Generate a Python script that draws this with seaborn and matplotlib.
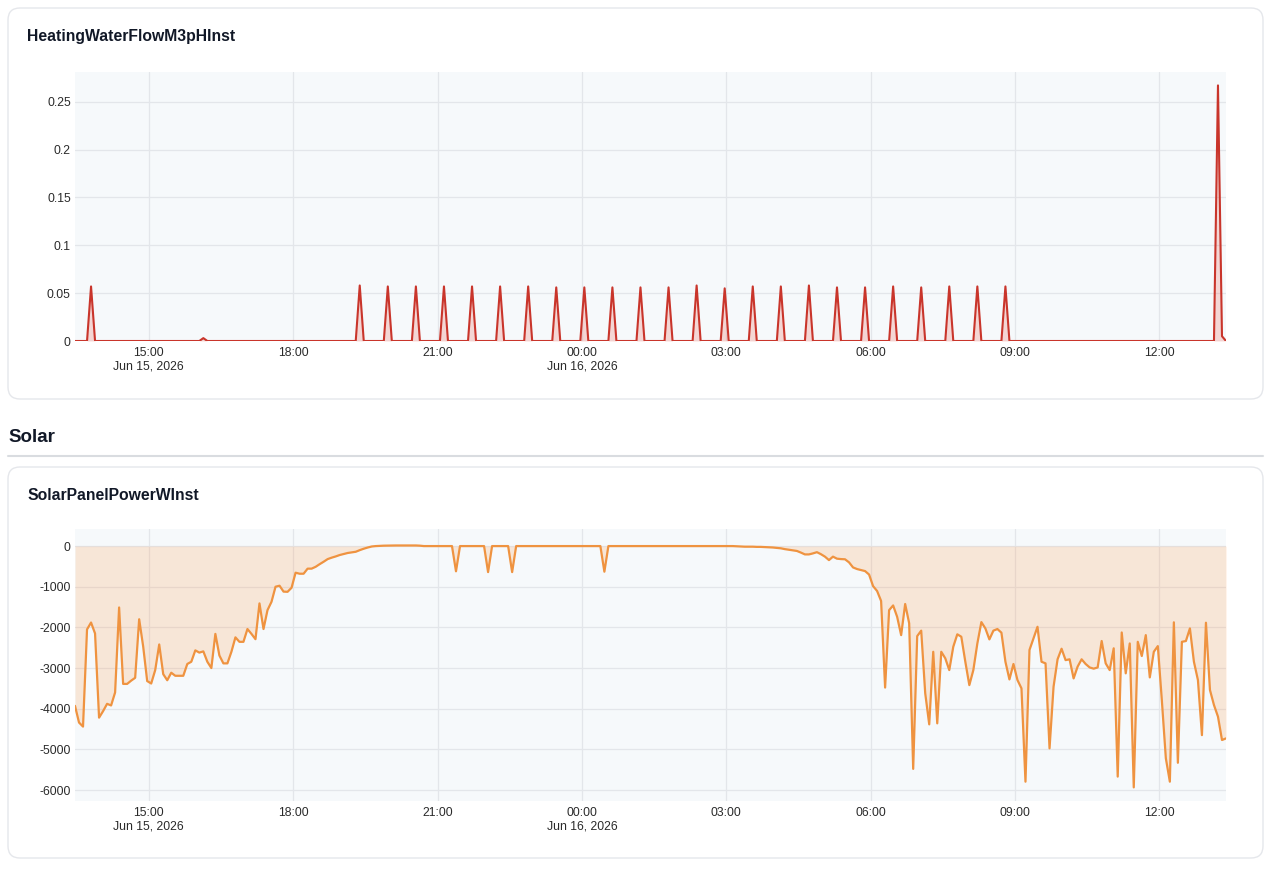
import pandas as pd
import numpy as np
import matplotlib
matplotlib.use("Agg")
import matplotlib.pyplot as plt
from matplotlib.patches import FancyBboxPatch
from matplotlib.transforms import Affine2D
import seaborn as sns

# data: 5 minute samples starting at 13:28
start = "2026-06-15 13:28"

# heating flow is 0 except for these pump pulses
flow_times = ["2026-06-15 13:48", "2026-06-15 16:08",
              "2026-06-15 19:23", "2026-06-15 19:58", "2026-06-15 20:33", "2026-06-15 21:08",
              "2026-06-15 21:43", "2026-06-15 22:18", "2026-06-15 22:53", "2026-06-15 23:28",
              "2026-06-16 00:03", "2026-06-16 00:38", "2026-06-16 01:13", "2026-06-16 01:48",
              "2026-06-16 02:23", "2026-06-16 02:58", "2026-06-16 03:33", "2026-06-16 04:08",
              "2026-06-16 04:43", "2026-06-16 05:18", "2026-06-16 05:53", "2026-06-16 06:28",
              "2026-06-16 07:03", "2026-06-16 07:38", "2026-06-16 08:13", "2026-06-16 08:48",
              "2026-06-16 13:13", "2026-06-16 13:18"]
flow_vals = [0.057, 0.003,
             0.058, 0.057, 0.057, 0.057, 0.057, 0.057, 0.057, 0.056,
             0.056, 0.056, 0.056, 0.056, 0.058, 0.055, 0.057, 0.057,
             0.058, 0.056, 0.056, 0.057, 0.056, 0.057, 0.057, 0.057,
             0.267, 0.005]

solar_w = [
    -3930, -4340, -4440, -2050, -1880, -2150, -4220, -4060, -3880, -3920, -3600, -1510,
    -3390, -3390, -3310, -3240, -1800, -2470, -3320, -3380, -3050, -2420, -3150, -3300,
    -3115, -3190, -3190, -3190, -2900, -2845, -2565, -2620, -2590, -2845, -3000, -2160,
    -2690, -2885, -2885, -2600, -2245, -2355, -2355, -2040, -2160, -2290, -1410, -2040,
    -1575, -1370, -1000, -975, -1120, -1125, -1025, -655, -680, -680, -555, -555,
    -510, -445, -385, -320, -285, -255, -220, -195, -170, -155, -140, -100,
    -65, -35, -10, 0, 5, 10, 12, 15, 15, 15, 15, 15,
    15, 15, 10, 0, 0, 0, 0, 0, 0, 0, 0, -620,
    0, 0, 0, 0, 0, 0, 0, -640, 0, 0, 0, 0,
    0, -640, 0, 0, 0, 0, 0, 0, 0, 0, 0, 0,
    0, 0, 0, 0, 0, 0, 0, 0, 0, 0, 0, 0,
    -630, 0, 0, 0, 0, 0, 0, 0, 0, 0, 0, 0,
    0, 0, 0, 0, 0, 0, 0, 0, 0, 0, 0, 0,
    0, 0, 0, 0, 0, 0, 0, 0, 0, -5, -10, -15,
    -15, -15, -20, -20, -25, -30, -35, -45, -55, -75, -90, -105,
    -120, -160, -205, -205, -180, -150, -200, -260, -345, -260, -310, -320,
    -325, -400, -525, -565, -590, -615, -700, -985, -1105, -1350, -3480, -1575,
    -1460, -1740, -2190, -1425, -1900, -5480, -2215, -2080, -3620, -4385, -2600, -4360,
    -2600, -2760, -3050, -2475, -2170, -2230, -2845, -3420, -3050, -2395, -1870, -2025,
    -2295, -2080, -2040, -2130, -2845, -3280, -2900, -3295, -3500, -5795, -2555, -2270,
    -1985, -2845, -2885, -4975, -3460, -2785, -2525, -2805, -2785, -3255, -2965, -2785,
    -2900, -2985, -3015, -2985, -2335, -2885, -3050, -2515, -5670, -2125, -3130, -2395,
    -5935, -2355, -2705, -2190, -3230, -2600, -2460, -3790, -5220, -5795, -1875, -5330,
    -2355, -2335, -2025, -2845, -3295, -4650, -1885, -3540, -3910, -4195, -4770, -4730,
]

tick_times = ["2026-06-15 15:00", "2026-06-15 18:00", "2026-06-15 21:00", "2026-06-16 00:00",
              "2026-06-16 03:00", "2026-06-16 06:00", "2026-06-16 09:00", "2026-06-16 12:00"]
tick_labels = ["15:00\nJun 15, 2026", "18:00", "21:00", "00:00\nJun 16, 2026",
               "03:00", "06:00", "09:00", "12:00"]
flow_yticks = [0, 0.05, 0.1, 0.15, 0.2, 0.25]
flow_ylabels = ["0", "0.05", "0.1", "0.15", "0.2", "0.25"]
solar_yticks = [0, -1000, -2000, -3000, -4000, -5000, -6000]

times = pd.date_range(start, periods=len(solar_w), freq="5min")
flow = pd.Series(0.0, index=times)
flow[pd.to_datetime(flow_times)] = flow_vals
df = pd.DataFrame({"time": times, "flow": flow.values, "solar": solar_w})

sns.set_style("whitegrid", {"axes.facecolor": "#f6f9fb", "grid.color": "#e3e6ea",
                            "axes.edgecolor": "#f6f9fb"})
plt.rcParams["font.family"] = ["Liberation Sans", "DejaVu Sans"]

W, H = 1280, 880
fig = plt.figure(figsize=(12.8, 8.8), dpi=100)
px = Affine2D().scale(1 / W, -1 / H).translate(0, 1) + fig.transFigure

# cards, header, separator
for y0, y1 in [(8, 399), (467, 858)]:
    fig.patches.append(FancyBboxPatch((8, y0), 1255, y1 - y0,
                                      boxstyle="round,pad=0,rounding_size=12",
                                      transform=px, facecolor="white",
                                      edgecolor="#e5e7eb", lw=1, zorder=-5))
fig.add_artist(plt.Line2D([8, 1263], [456, 456], transform=px, color="#d9dce0", lw=1.5))
fig.text(27, 37, "HeatingWaterFlowM3pHInst", transform=px, fontsize=11.3,
         fontweight="bold", color="#111827", va="center")
fig.text(8, 437, "Solar", transform=px, fontsize=13.5, fontweight="bold",
         color="#111827", va="center")
fig.text(27, 496, "SolarPanelPowerWInst", transform=px, fontsize=11.3,
         fontweight="bold", color="#111827", va="center")

left, width = 75 / W, (1226 - 75) / W
ax1 = fig.add_axes([left, 1 - 341 / H, width, (341 - 72) / H])
ax2 = fig.add_axes([left, 1 - 801 / H, width, (801 - 529) / H])

red = "#c9352b"
orange = "#ef9340"
sns.lineplot(data=df, x="time", y="flow", ax=ax1, color=red, lw=1.5)
ax1.fill_between(df["time"], df["flow"], 0, color="#f04a3a", alpha=0.2, lw=0)
sns.lineplot(data=df, x="time", y="solar", ax=ax2, color=orange, lw=1.6)
ax2.fill_between(df["time"], df["solar"], 0, color="#ff9a4a", alpha=0.2, lw=0)

ax1.set_ylim(0, 0.281)
ax1.set_yticks(flow_yticks, flow_ylabels)
ax2.set_ylim(-6270, 420)
ax2.set_yticks(solar_yticks, [str(v) for v in solar_yticks])

for ax in (ax1, ax2):
    ax.set_xlim(times[0], times[-1])
    ax.set_xticks(pd.to_datetime(tick_times), tick_labels)
    ax.set_xlabel("")
    ax.set_ylabel("")
    ax.tick_params(length=0, labelsize=8.8, colors="#2a2a2a")
    ax.tick_params(axis="x", pad=4)
    ax.tick_params(axis="y", pad=3)
    ax.grid(True, color="#e3e6ea", lw=0.9)
    for s in ax.spines.values():
        s.set_visible(False)
    for lbl in ax.get_xticklabels():
        lbl.set_linespacing(1.2)

fig.savefig("out.png", dpi=100, facecolor="white")
